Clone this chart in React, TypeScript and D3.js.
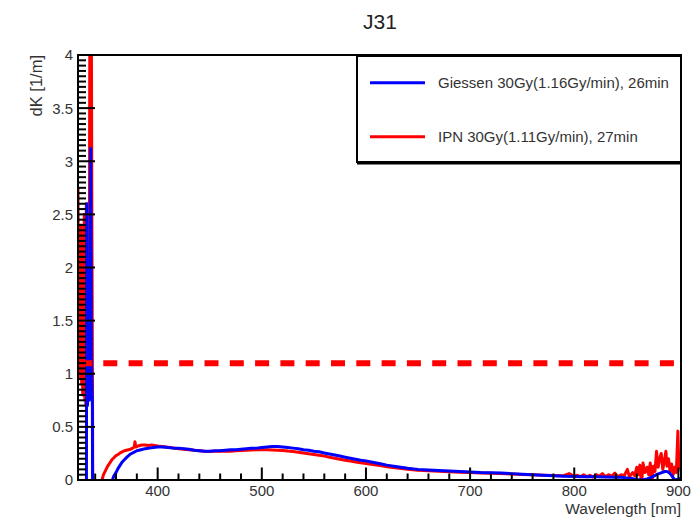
import React from "react";
import * as d3 from "d3";

const blueWl = [323.5, 331.4, 331.9, 332.6, 333.4, 334.3, 335.2, 335.7, 336.4, 337.3, 338.1, 355.6, 356.5, 358, 360, 362, 364, 366, 368, 371, 374, 377, 380, 384, 388, 392, 396, 400, 405, 410, 415, 420, 425, 430, 435, 440, 445, 450, 455, 460, 465, 470, 475, 480, 485, 490, 495, 500, 505, 510, 515, 520, 525, 530, 535, 540, 545, 550, 555, 560, 565, 570, 575, 580, 585, 590, 595, 600, 605, 610, 615, 620, 630, 640, 650, 660, 670, 680, 690, 700, 710, 720, 730, 740, 750, 760, 770, 780, 790, 800, 810, 820, 830, 840, 845, 850, 855, 860, 865, 870, 875, 880, 884, 887, 889, 891, 893, 895, 897, 899, 901, 902.5];
const blueVal = [-2, -2, 2.6, 0.7, 1.4, 0.75, 2.2, 3.12, 1.1, 0.7, -2, -0.4, 0.0, 0.04, 0.07, 0.11, 0.14, 0.17, 0.19, 0.22, 0.245, 0.26, 0.275, 0.285, 0.295, 0.3, 0.305, 0.31, 0.31, 0.305, 0.3, 0.3, 0.295, 0.29, 0.28, 0.275, 0.27, 0.27, 0.275, 0.275, 0.28, 0.285, 0.285, 0.29, 0.295, 0.3, 0.3, 0.305, 0.31, 0.315, 0.315, 0.31, 0.305, 0.3, 0.295, 0.285, 0.28, 0.27, 0.265, 0.255, 0.245, 0.235, 0.225, 0.215, 0.205, 0.195, 0.185, 0.18, 0.17, 0.16, 0.15, 0.14, 0.125, 0.11, 0.1, 0.095, 0.09, 0.085, 0.08, 0.075, 0.07, 0.068, 0.065, 0.06, 0.055, 0.05, 0.045, 0.04, 0.035, 0.032, 0.03, 0.03, 0.028, 0.025, 0.025, 0.02, 0.015, 0.005, 0.0, 0.01, 0.03, 0.055, 0.07, 0.08, 0.08, 0.07, 0.05, 0.02, 0.0, 0.005, 0.01, 0.02];

const redWl = [323.5, 324.0, 324.5, 325.0, 325.5, 326.0, 326.5, 327.0, 327.5, 328.0, 328.5, 329.0, 329.5, 330.0, 330.5, 331.0, 331.5, 332.0, 332.8, 333.6, 334.4, 335.2, 336.0, 336.8, 337.5, 338.1, 345.8, 346.5, 348, 350, 352, 354, 356, 358, 360, 362, 364, 366, 368, 370, 372, 374, 376, 377.5, 378.2, 379, 381, 383, 385, 388, 391, 394, 397, 400, 404, 408, 412, 416, 420, 425, 430, 435, 440, 445, 450, 455, 460, 465, 470, 475, 480, 485, 490, 495, 500, 505, 510, 515, 520, 525, 530, 535, 540, 545, 550, 555, 560, 565, 570, 575, 580, 585, 590, 595, 600, 605, 610, 615, 620, 630, 640, 650, 660, 670, 680, 690, 700, 710, 720, 730, 740, 750, 760, 770, 780, 790, 795, 800, 803, 806, 809, 812, 815, 818, 821, 824, 827, 830, 833, 836, 839, 842, 845, 848, 851, 853, 856, 858, 860, 861.5, 863, 864.6, 866, 868, 870, 871.5, 873, 874.5, 876, 877.5, 879, 880.5, 882, 883.5, 885, 886.5, 888, 889, 890.5, 892, 893.5, 895, 896.5, 898, 899.5, 900.5, 901.5, 902.5];
const redVal = [2.75, 1.6, 2.3, 1.0, 2.0, 0.95, 2.4, 0.9, 1.8, 0.8, 2.1, 0.85, 2.5, 0.75, 2.2, 0.7, 2.6, 0.8, 1.9, 0.9, 2.0, 6.0, 5.5, 2.57, 0.64, -2, -0.4, 0.0, 0.05, 0.09, 0.13, 0.16, 0.19, 0.21, 0.23, 0.24, 0.255, 0.265, 0.275, 0.28, 0.285, 0.29, 0.3, 0.31, 0.36, 0.31, 0.32, 0.325, 0.33, 0.33, 0.325, 0.33, 0.325, 0.32, 0.315, 0.31, 0.305, 0.3, 0.295, 0.29, 0.285, 0.28, 0.275, 0.27, 0.268, 0.27, 0.27, 0.272, 0.27, 0.275, 0.278, 0.28, 0.282, 0.285, 0.285, 0.285, 0.283, 0.28, 0.278, 0.272, 0.268, 0.262, 0.255, 0.248, 0.24, 0.232, 0.225, 0.215, 0.205, 0.195, 0.185, 0.178, 0.17, 0.163, 0.155, 0.148, 0.14, 0.133, 0.125, 0.112, 0.1, 0.092, 0.088, 0.082, 0.078, 0.074, 0.07, 0.066, 0.064, 0.06, 0.056, 0.052, 0.05, 0.045, 0.042, 0.04, 0.06, 0.035, 0.045, 0.03, 0.05, 0.03, 0.045, 0.028, 0.05, 0.035, 0.06, 0.03, 0.05, 0.035, 0.065, 0.03, 0.05, 0.04, 0.1, 0.03, 0.07, 0.04, 0.12, 0.05, 0.14, -0.05, 0.16, 0.07, 0.12, 0.05, 0.16, -0.03, 0.13, 0.08, 0.27, 0.12, 0.2, 0.25, 0.1, 0.18, 0.27, 0.13, 0.2, 0.08, 0.15, 0.05, 0.12, 0.07, 0.46, 0.12, 0.22, 0.08];

const thresholdValue = 1.1;
const xMajorTicks = [400, 500, 600, 700, 800, 900];
const yMajorTicks = [0, 0.5, 1, 1.5, 2, 2.5, 3, 3.5, 4];
const legendLabels = ["Giessen 30Gy(1.16Gy/min), 26min", "IPN 30Gy(1.11Gy/min), 27min"];
const seriesColors = ["#0000ff", "#ff0000"];

const W = 700, H = 521;
const L = 78, R = 681, T = 55, B = 480;
const FONT = "'Liberation Sans', Arial, Helvetica, sans-serif";

export default function App() {
  const x = d3.scaleLinear().domain([323.5, 902.5]).range([L, R]);
  const y = d3.scaleLinear().domain([0, 4]).range([B, T]);
  const line = d3.line<[number, number]>().x(d => x(d[0])).y(d => y(d[1]));
  const blue = blueWl.map((w, i) => [w, blueVal[i]] as [number, number]);
  const red = redWl.map((w, i) => [w, redVal[i]] as [number, number]);

  const xMinor = d3.range(340, 901, 20).filter(v => !xMajorTicks.includes(v));
  const yMinor = d3.range(0, 4.0001, 0.05).map(v => +v.toFixed(2)).filter(v => Math.abs(v / 0.5 - Math.round(v / 0.5)) > 1e-6);
  const legendY = [82.7, 136.7];

  return (
    <svg width={W} height={H} style={{ position: "absolute", left: 0, top: 0, background: "#fff" }} fontFamily={FONT}>
      <defs>
        <clipPath id="plotClip">
          <rect x={L} y={T} width={R - L} height={B - T} />
        </clipPath>
      </defs>
      <rect x={0} y={0} width={W} height={H} fill="#fff" />
      <text x={380} y={29} textAnchor="middle" fontSize={21} fill="#222">J31</text>

      <g clipPath="url(#plotClip)">
        <path d={line(red) || ""} fill="none" stroke={seriesColors[1]} strokeWidth={3} strokeLinejoin="round" />
        <path d={line(blue) || ""} fill="none" stroke={seriesColors[0]} strokeWidth={3} strokeLinejoin="round" />
        <line x1={L} x2={R} y1={y(thresholdValue)} y2={y(thresholdValue)} stroke="#ff0000" strokeWidth={6} strokeDasharray="14 11.3" />
      </g>

      <g stroke="#000" strokeWidth={2}>
        {xMajorTicks.map(v => <line key={"xM" + v} x1={x(v)} x2={x(v)} y1={B} y2={B - 12.5} />)}
        {xMinor.map(v => <line key={"xm" + v} x1={x(v)} x2={x(v)} y1={B} y2={B - 6.5} />)}
        {yMajorTicks.map(v => <line key={"yM" + v} x1={L} x2={L + 17} y1={y(v)} y2={y(v)} />)}
        {yMinor.map(v => <line key={"ym" + v} x1={L} x2={L + 8} y1={y(v)} y2={y(v)} />)}
      </g>
      <rect x={L} y={T} width={R - L} height={B - T} fill="none" stroke="#000" strokeWidth={2} />

      <g fontSize={15} fill="#333">
        {xMajorTicks.map(v => <text key={"xl" + v} x={x(v)} y={496} textAnchor="middle">{v}</text>)}
        {yMajorTicks.map(v => <text key={"yl" + v} x={73} y={y(v)} dy="0.36em" textAnchor="end">{v}</text>)}
      </g>
      <text x={681} y={514} textAnchor="end" fontSize={15.5} fill="#333">Wavelength [nm]</text>
      <text transform={`translate(42,${T}) rotate(-90)`} textAnchor="end" fontSize={16.5} fill="#333">dK [1/m]</text>

      <rect x={357} y={56} width={324} height={106} fill="#fff" stroke="#000" strokeWidth={2} />
      <line x1={357} x2={682} y1={163} y2={163} stroke="#000" strokeWidth={3} />
      {legendLabels.map((lab, i) => (
        <g key={lab}>
          <line x1={370} x2={425} y1={legendY[i]} y2={legendY[i]} stroke={seriesColors[i]} strokeWidth={3} />
          <text x={438} y={legendY[i]} dy="0.35em" fontSize={15} fill="#333">{lab}</text>
        </g>
      ))}
    </svg>
  );
}
